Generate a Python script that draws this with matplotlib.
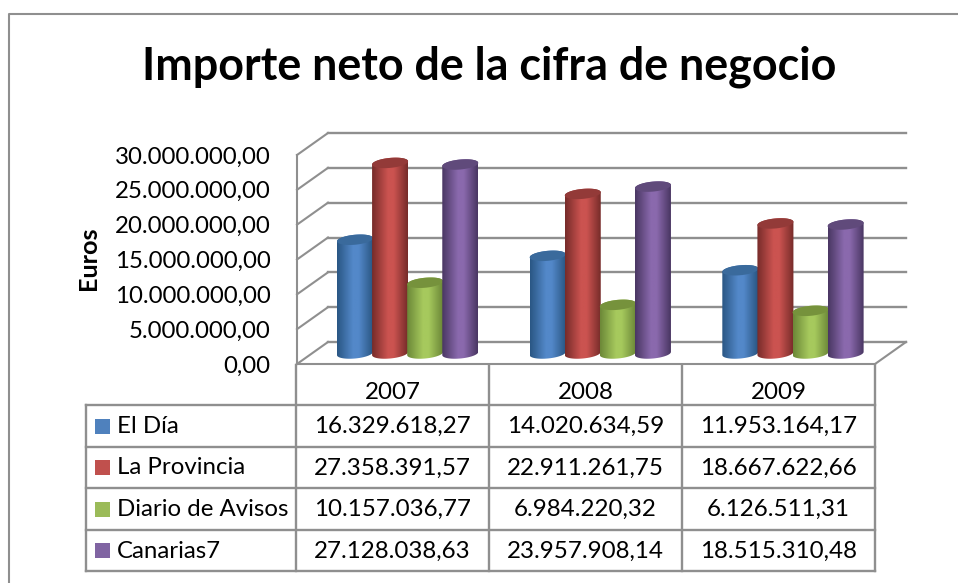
import numpy as np
from matplotlib import pyplot as plt
from matplotlib.patches import PathPatch, Rectangle
from matplotlib.path import Path
from matplotlib.colors import LinearSegmentedColormap
from matplotlib.transforms import Affine2D

title = "Importe neto de la cifra de negocio"
years = ["2007", "2008", "2009"]
series_names = ["El Día", "La Provincia", "Diario de Avisos", "Canarias7"]
el_dia = [16329618.27, 14020634.59, 11953164.17]
la_provincia = [27358391.57, 22911261.75, 18667622.66]
diario_avisos = [10157036.77, 6984220.32, 6126511.31]
canarias7 = [27128038.63, 23957908.14, 18515310.48]
y_ticks = [0, 5000000, 10000000, 15000000, 20000000, 25000000, 30000000]

swatches = ["#4f81bd", "#c0504d", "#9bbb59", "#8064a2"]
shades = [
    ("#2a5784", "#5388c9", "#3a6a9c"),
    ("#772c2a", "#cb5350", "#933a38"),
    ("#6c8838", "#a6c95d", "#76923c"),
    ("#4a3763", "#8a69ad", "#604a7b"),
]
GREY = "#8f8f8f"
FONT = "Lato"
W, H = 958, 583


def es_number(v):
    s = "{:,.2f}".format(v)
    return s.replace(",", "#").replace(".", ",").replace("#", ".")


def cylinder(ax, xc, value, width, colors, z):
    # outline is built in pixels, the position comes from the axes scales
    x0, base = ax.transData.transform((xc - width / 2, 0))
    x1, top = ax.transData.transform((xc + width / 2, value))
    x0, x1 = x0 + 14.3, x1 + 14.3
    base, top = base + 10.5, top + 10.5
    cx = (x0 + x1) / 2
    a = (x1 - x0) / 2
    b = 5.0
    tilt = 1.6

    t = np.linspace(np.pi, 2 * np.pi, 30)
    low = np.c_[cx + a * np.cos(t), base + b * np.sin(t) + tilt * np.cos(t)]
    t = np.linspace(0, np.pi, 30)
    high = np.c_[cx + a * np.cos(t), top + b * np.sin(t) + tilt * np.cos(t)]
    body = Path(np.r_[low, high, low[:1]])

    cmap = LinearSegmentedColormap.from_list("c", [colors[0], colors[1], colors[1], colors[0]])
    grad = np.interp(np.linspace(0, 1, 64), [0, 0.45, 0.6, 1], [0, 0.34, 0.66, 1])
    img = ax.imshow(
        grad[None, :], cmap=cmap, vmin=0, vmax=1, aspect="auto", zorder=z,
        extent=(x0, x1, base - b - 3, top + b + 3), transform=Affine2D(),
        interpolation="bilinear",
    )
    img.set_clip_path(body, Affine2D())

    t = np.linspace(0, 2 * np.pi, 60)
    lid = Path(np.c_[cx + a * np.cos(t), top + b * np.sin(t) + tilt * np.cos(t)])
    ax.add_patch(PathPatch(lid, fc=colors[2], ec="none", transform=Affine2D(), zorder=z + 0.5))


fig = plt.figure(figsize=(W / 100, H / 100), dpi=100)
plt.rcParams["font.family"] = [FONT, "DejaVu Sans"]

# overlay in pixel coordinates for the frame and the data table
bg = fig.add_axes([0, 0, 1, 1])
bg.set_xlim(0, W)
bg.set_ylim(H, 0)
bg.axis("off")

bg.plot([958, 9, 9], [14, 14, 583], color=GREY, lw=1.5)

# chart axes sit on the front plane of the 3D box
left, right, y0, y30 = 297, 875, 364, 155
ax = fig.add_axes([left / W, 1 - y0 / H, (right - left) / W, (y0 - y30) / H])
ax.patch.set_alpha(0)
ax.set_autoscale_on(False)
ax.set_xlim(-0.5, 2.5)
ax.set_ylim(0, 30000000)
for name in ["top", "right"]:
    ax.spines[name].set_visible(False)
for name in ["left", "bottom"]:
    ax.spines[name].set_color(GREY)
    ax.spines[name].set_linewidth(1.5)
ax.set_yticks(y_ticks)
ax.set_yticklabels([es_number(v) for v in y_ticks], fontsize=17.3, family=FONT, va="center_baseline")
for label in ax.get_yticklabels():
    label.set_transform(label.get_transform() + Affine2D().translate(0, -2))
ax.set_xticks(range(len(years)))
ax.set_xticklabels(years, fontsize=17.4, family=FONT)
ax.tick_params(axis="y", length=0, pad=19)
ax.tick_params(axis="x", length=0, pad=13)
ax.set_ylabel("Euros", fontsize=18.2, fontweight="bold", family=FONT, va="center")
ax.yaxis.set_label_coords((88 - left) / (right - left), 0.505)

# back wall, side wall and floor
back = Affine2D().translate(31, 22)
for v in y_ticks:
    ax.plot([-0.5, 2.5], [v, v], color=GREY, lw=1.7, transform=ax.transData + back, clip_on=False, zorder=2)
    xa, ya = ax.transData.transform((-0.5, v))
    ax.plot([xa, xa + 31], [ya, ya + 22], color=GREY, lw=1.5, transform=Affine2D(), clip_on=False, zorder=2)
xa, ya = ax.transData.transform((2.5, 0))
ax.plot([xa, xa + 31], [ya, ya + 22], color=GREY, lw=1.5, transform=Affine2D(), clip_on=False, zorder=2)

values = [el_dia, la_provincia, diario_avisos, canarias7]
bar_w = 36.0 / ((right - left) / 3)
for s, series in enumerate(values):
    for i, v in enumerate(series):
        cylinder(ax, i + (s - 1.5) * bar_w * 0.975, v, bar_w, shades[s], 3 + s)

# data table
col_x = [86, 296, 489, 682, 875]
row_y = [405, 447, 488, 530, 571]
for x in col_x:
    top = 365 if x != col_x[0] else row_y[0]
    bg.plot([x, x], [top, row_y[-1]], color=GREY, lw=1.7)
for y in row_y:
    bg.plot([col_x[0], col_x[-1]], [y, y], color=GREY, lw=1.7)
for r, name in enumerate(series_names):
    yc = (row_y[r] + row_y[r + 1]) / 2
    bg.add_patch(Rectangle((95, yc - 7.5), 15, 15, fc=swatches[r], ec="none"))
    bg.text(117, yc + 0.5, name, fontsize=17.3, va="center", family=FONT)
    for c in range(len(years)):
        xc = (col_x[c + 1] + col_x[c + 2]) / 2
        bg.text(xc, yc + 0.5, es_number(values[r][c]), fontsize=17.4, ha="center", va="center", family=FONT)

bg.text(489, 67, title, fontsize=32.3, fontweight="bold", ha="center", va="center", family=FONT)

fig.savefig("out.png", dpi=100)
